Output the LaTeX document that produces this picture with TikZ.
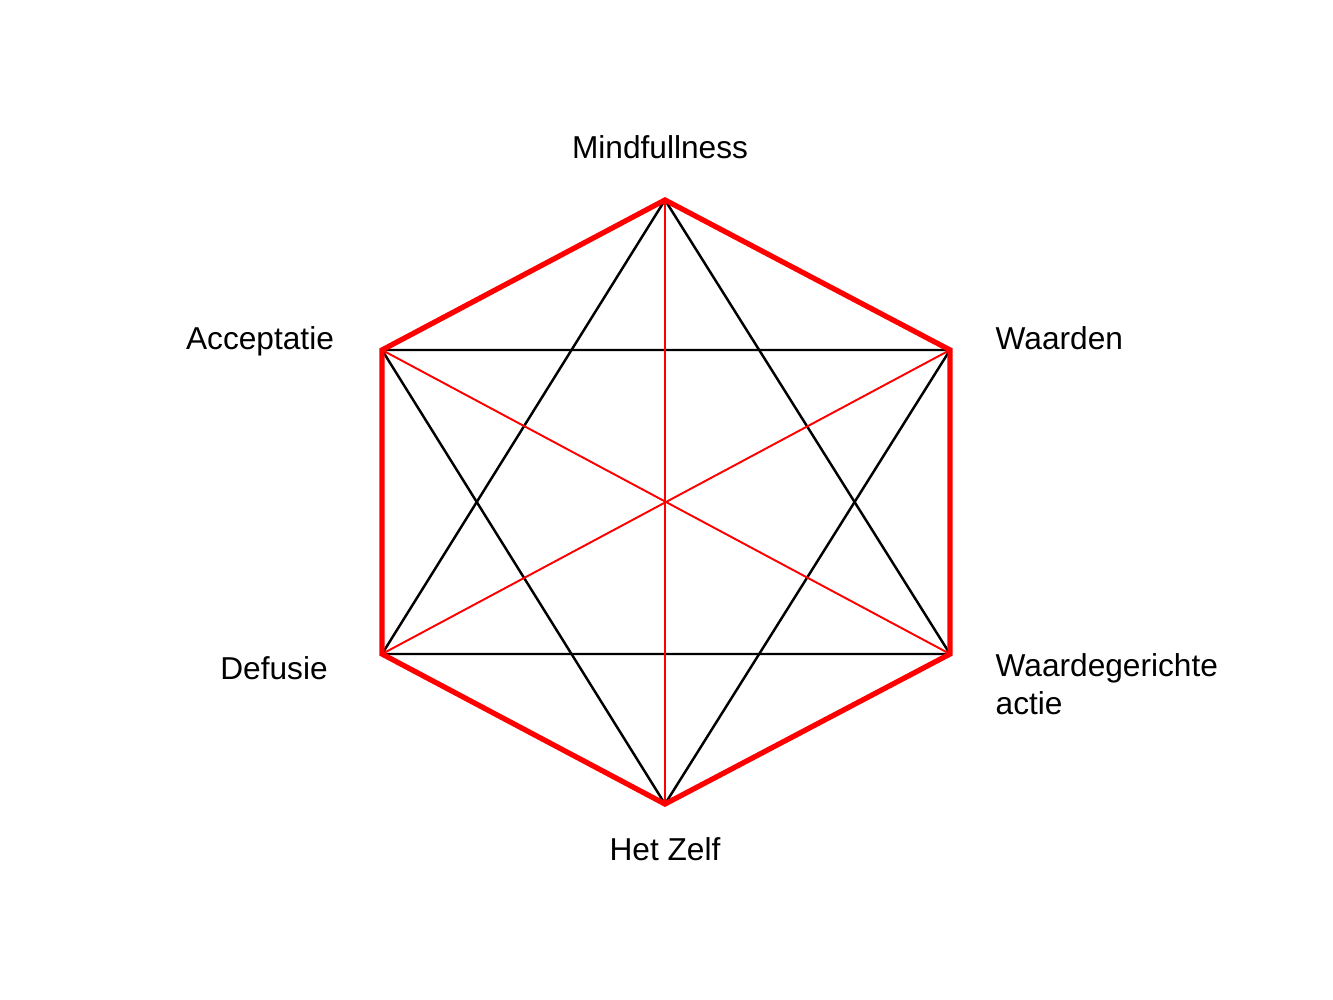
\documentclass[tikz,border=0pt]{standalone}
\usepackage{fontspec}
\setmainfont{Liberation Sans}
\usetikzlibrary{positioning}

\begin{document}
\begin{tikzpicture}[x=0.01cm, y=-0.01cm,
  lbl/.style={font=\fontsize{9}{10.8}\selectfont, inner sep=0pt},
  rim/.style={red, line width=1.5pt, line join=miter},
  tri/.style={black, line width=0.7pt},
  diag/.style={red, line width=0.55pt}]

\useasboundingbox (0,0) rectangle (1333,1000);

% Corners
\coordinate (mind) at (665,200);
\coordinate (wrd) at (950,350);
\coordinate (act) at (950,654);
\coordinate (zelf) at (665,804);
\coordinate (def) at (382,654);
\coordinate (acc) at (382,350);

% Triangles
\draw[tri] (mind) -- (def) -- (act) -- cycle;
\draw[tri] (acc) -- (wrd) -- (zelf) -- cycle;

% Diagonals
\foreach \a/\b in {mind/zelf, acc/act, wrd/def}
  \draw[diag] (\a) -- (\b);

% Hexagon
\draw[rim] (mind) -- (wrd) -- (act) -- (zelf) -- (def) -- (acc) -- cycle;

% Labels
\node[lbl] (lmind) at (660,147) {Mindfullness};
\node[lbl] (lacc) at (260,341) {Acceptatie};
\node[lbl, anchor=west] (lwrd) at (995,338) {Waarden};
\node[lbl] (ldef) at (274,668) {Defusie};
\node[lbl, anchor=west, align=left] (lact) at (995,684) {Waardegerichte\\actie};
\node[lbl] (lzelf) at (665,849) {Het Zelf};

\end{tikzpicture}
\end{document}
